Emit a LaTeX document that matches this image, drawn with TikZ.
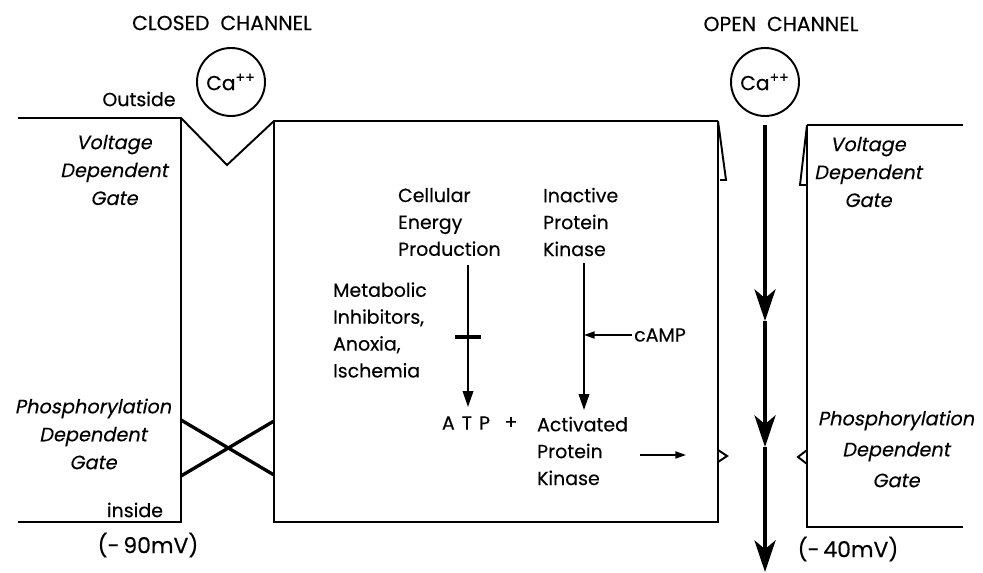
\documentclass[tikz,border=0pt]{standalone}
\usepackage{fontspec}
\setmainfont{Poppins}[FakeBold=0.3]
\newfontfamily\slfont{Poppins}[FakeSlant=0.2,FakeBold=0.3]
\usetikzlibrary{arrows.meta}
\begin{document}
\begin{tikzpicture}[x=0.02cm,y=-0.02cm,
  every node/.style={inner sep=1pt,font=\fontsize{10.8}{15.3}\selectfont},
  lbl/.style={align=left},
  gatetxt/.style={align=center,font=\fontsize{11}{15.9}\selectfont\slfont},
  mem/.style={line width=1.1pt,line join=miter},
  xgate/.style={line width=1.9pt},
  arr/.style={line width=0.9pt,-{Triangle[length=9pt,width=6pt]}},
  sarr/.style={line width=0.9pt,-{Triangle[length=6pt,width=4pt]}},
  flow/.style={line width=2.1pt,-{Stealth[length=18pt,width=12pt,inset=5pt]}},
  ion/.style={circle,draw,line width=1.1pt,minimum size=68*0.02cm,inner sep=0pt,font=\fontsize{11.5}{13}\selectfont}]
\useasboundingbox (0,0) rectangle (983,573);

% titles
\node (closedtitle) at (222,23) {\fontsize{11.6}{13}\selectfont CLOSED\ \ CHANNEL};
\node (opentitle) at (781,24) {\fontsize{11.6}{13}\selectfont OPEN\ \ CHANNEL};
\node[ion] (ca1) at (231,82) {Ca\textsuperscript{++}};
\node[ion] (ca2) at (765,82) {Ca\textsuperscript{++}};

% closed channel membrane
\draw[mem] (18,118) -- (181,118) -- (227,165) -- (274,121) -- (718,121);
\draw[mem] (181,118) -- (181,522) -- (18,522);
\draw[mem] (274,121) -- (274,522) -- (718,522) -- (718,121);
\draw[xgate] (181,420) -- (274,475);
\draw[xgate] (181,476) -- (274,421);

% open channel gates
\draw[mem] (718,121) -- (726,180) -- (720,180);
\draw[mem] (807,125) -- (963,125);
\draw[mem] (807,125) -- (807,527) -- (963,527);
\draw[mem] (807,125) -- (800,185) -- (806,185);
\draw[mem] (718,450) -- (727,456) -- (718,462);
\draw[mem] (807,450) -- (798,457) -- (807,464);

% labels left
\node (outside) at (139,99) {Outside};
\node[gatetxt] (vdg1) at (114,170) {Voltage\\Dependent\\Gate};
\node[gatetxt] (pdg1) at (93,434) {Phosphorylation\\Dependent\\Gate};
\node (inside) at (135,510) {inside};
\node (mv90) at (148,545) {\fontsize{12.5}{14}\selectfont(-\,90mV)};

% labels right
\node[gatetxt] (vdg2) at (868,172) {Voltage\\Dependent\\Gate};
\node[gatetxt,font=\fontsize{11}{17.6}\selectfont\slfont] (pdg2) at (896,449) {Phosphorylation\\Dependent\\Gate};
\node (mv40) at (848,549) {\fontsize{12.5}{14}\selectfont(-\,40mV)};

% central text
\node[lbl,anchor=west] (cep) at (396,222) {Cellular\\Energy\\Production};
\node[lbl,anchor=west] (ipk) at (541,222) {Inactive\\Protein\\Kinase};
\node[lbl,anchor=west] (met) at (331,330) {Metabolic\\Inhibitors,\\Anoxia,\\Ischemia};
\node (camp) at (660,335) {cAMP};
\node (atp) at (466,423) {A\hspace{4pt}T\hspace{4pt}P};
\node (plus) at (511,423) {+};
\node[lbl,anchor=west] (apk) at (535,451) {Activated\\Protein\\Kinase};

% central connectors
\coordinate (p1) at (468,265);
\coordinate (p1e) at (468,407);
\coordinate (p2) at (584,263);
\coordinate (p2e) at (584,410);
\coordinate (cb1) at (455,337);
\coordinate (cb2) at (481,337);
\coordinate (ca) at (584,335);
\coordinate (k1) at (640,455);
\coordinate (k2) at (686,455);
\draw[arr] (p1) -- (p1e);
\draw[arr] (p2) -- (p2e);
\draw[line width=1.8pt] (cb1) -- (cb2);
\draw[sarr] (camp.west) -- (ca);
\draw[sarr] (k1) -- (k2);

% ion flow
\coordinate (f0) at (765,125);
\coordinate (f1) at (765,321);
\coordinate (f2) at (765,447);
\coordinate (f3) at (765,572);
\draw[flow] (f0) -- (f1);
\draw[flow] (f1) -- (f2);
\draw[flow] (f2) -- (f3);
\end{tikzpicture}
\end{document}
